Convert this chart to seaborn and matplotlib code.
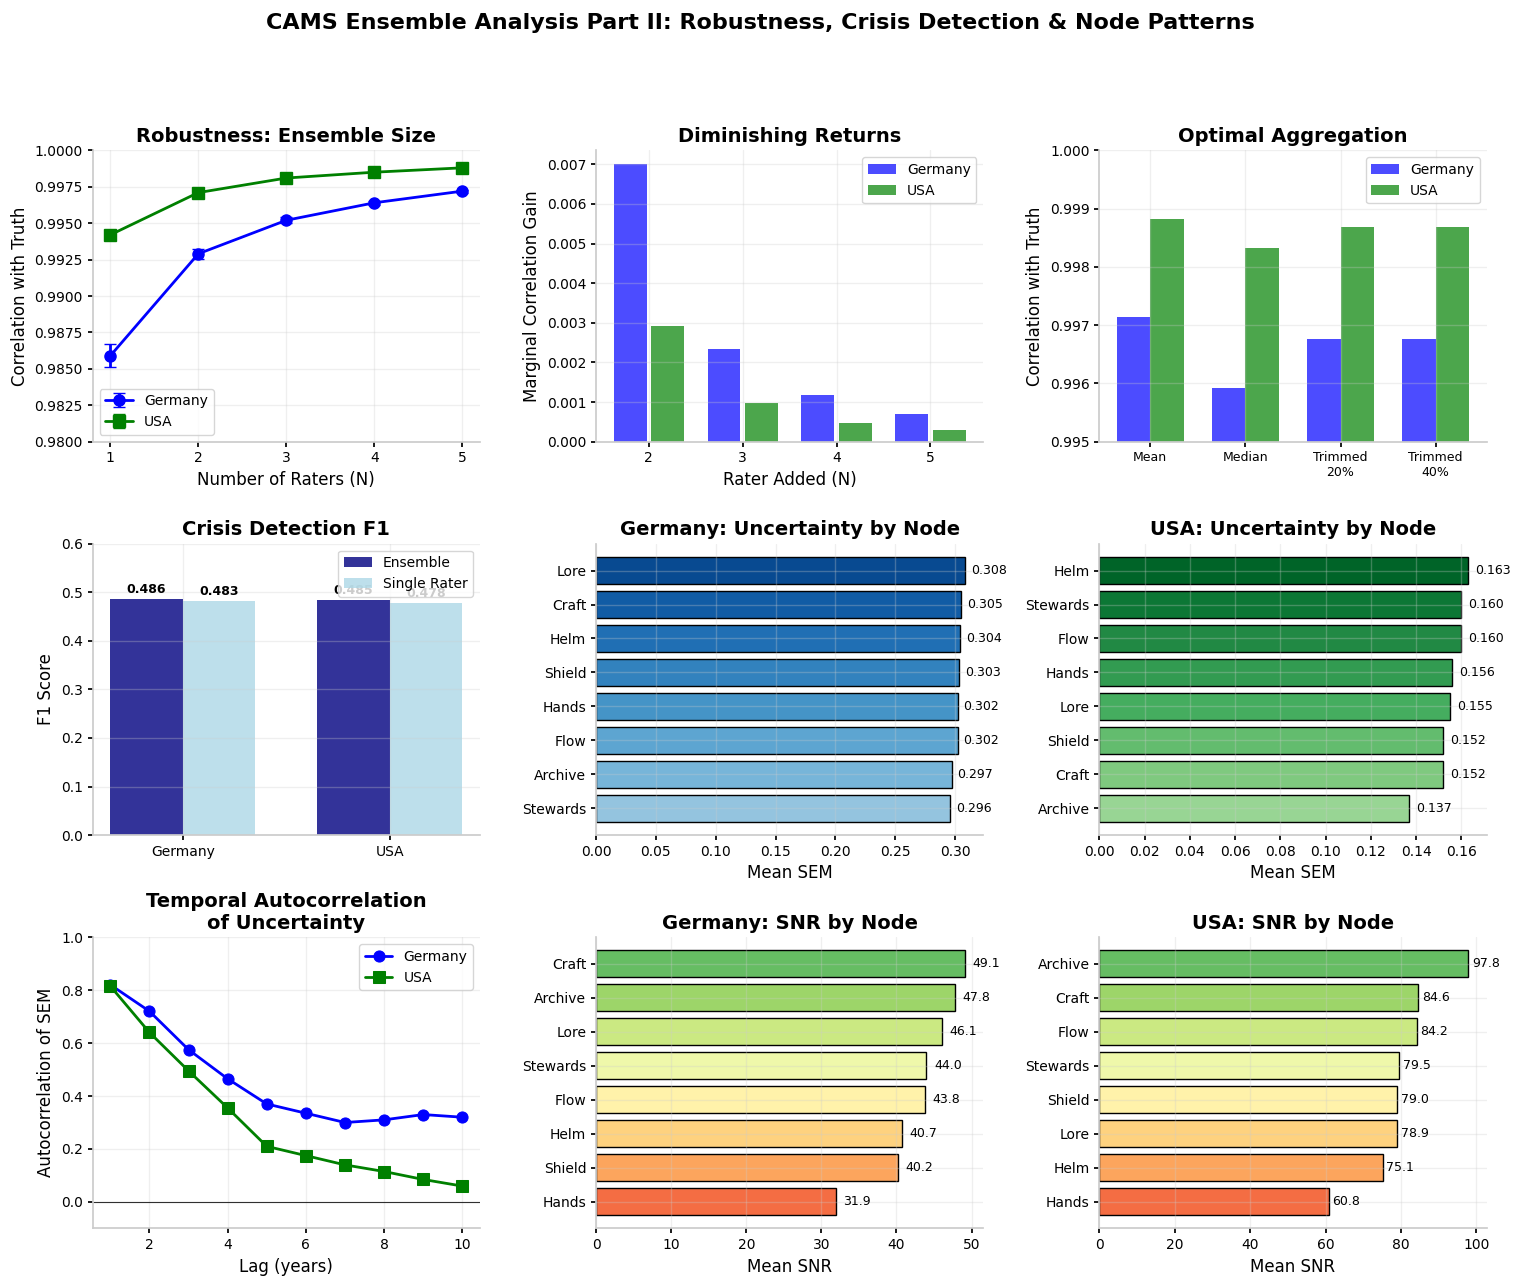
import matplotlib
matplotlib.use('Agg')
import matplotlib.pyplot as plt
import numpy as np
import pandas as pd
import seaborn as sns

# ---- data ----
countries = ['Germany', 'USA']

raters = [1, 2, 3, 4, 5]
robust_ger = [0.9859, 0.9929, 0.9952, 0.9964, 0.9972]
robust_ger_err = [0.0008, 0.00035, 0.0002, 0.00015, 0.0001]
robust_usa = [0.9942, 0.9971, 0.9981, 0.9985, 0.9988]
robust_usa_err = [0.0001, 0.00008, 0.00005, 0.00004, 0.00003]

added = [2, 3, 4, 5]
gain_ger = [0.0070, 0.00235, 0.00118, 0.00070]
gain_usa = [0.00293, 0.00098, 0.00048, 0.00030]

methods = ['Mean', 'Median', 'Trimmed\n20%', 'Trimmed\n40%']
agg_ger = [0.99714, 0.99592, 0.99676, 0.99676]
agg_usa = [0.99883, 0.99832, 0.99868, 0.99868]

f1_ensemble = [0.486, 0.485]
f1_single = [0.483, 0.478]

sem_ger_nodes = ['Lore', 'Craft', 'Helm', 'Shield', 'Hands', 'Flow', 'Archive', 'Stewards']
sem_ger = [0.308, 0.305, 0.304, 0.303, 0.302, 0.302, 0.297, 0.296]
sem_usa_nodes = ['Helm', 'Stewards', 'Flow', 'Hands', 'Lore', 'Shield', 'Craft', 'Archive']
sem_usa = [0.163, 0.160, 0.160, 0.156, 0.155, 0.152, 0.152, 0.137]

lags = [1, 2, 3, 4, 5, 6, 7, 8, 9, 10]
acf_ger = [0.82, 0.72, 0.575, 0.465, 0.37, 0.335, 0.30, 0.31, 0.33, 0.32]
acf_usa = [0.815, 0.64, 0.495, 0.355, 0.21, 0.175, 0.14, 0.115, 0.085, 0.06]

snr_ger_nodes = ['Craft', 'Archive', 'Lore', 'Stewards', 'Flow', 'Helm', 'Shield', 'Hands']
snr_ger = [49.1, 47.8, 46.1, 44.0, 43.8, 40.7, 40.2, 31.9]
snr_usa_nodes = ['Archive', 'Craft', 'Flow', 'Stewards', 'Shield', 'Lore', 'Helm', 'Hands']
snr_usa = [97.8, 84.6, 84.2, 79.5, 79.0, 78.9, 75.1, 60.8]

# ---- style ----
sns.set_theme(style='ticks', font='DejaVu Sans')
plt.rcParams.update({
    'font.family': ['DejaVu Sans'],
    'text.color': 'black',
    'axes.labelcolor': 'black',
    'xtick.color': 'black',
    'ytick.color': 'black',
    'axes.edgecolor': '#cccccc',
    'axes.axisbelow': 'line',
    'axes.titlesize': 14,
    'axes.titleweight': 'bold',
    'axes.labelsize': 12,
    'xtick.labelsize': 10,
    'ytick.labelsize': 10,
    'legend.fontsize': 10,
    'xtick.major.size': 3.5,
    'ytick.major.size': 3.5,
})

fig, axes = plt.subplots(3, 3, figsize=(15.2, 12.85), dpi=100)
plt.subplots_adjust(left=0.061, right=0.978, top=0.883, bottom=0.044, wspace=0.30, hspace=0.35)
fig.suptitle('CAMS Ensemble Analysis Part II: Robustness, Crisis Detection & Node Patterns',
             fontsize=16, fontweight='bold', y=0.99, va='top')


def finish(ax):
    ax.grid(True, alpha=0.3)
    sns.despine(ax=ax)


def refit(ax):
    # undo seaborn's fixed categorical limits, use matplotlib margins
    ax.relim()
    ax.autoscale(enable=True)
    ax.autoscale_view()


def fix_legend(ax, loc):
    leg = ax.get_legend()
    handles = leg.legend_handles
    labels = [t.get_text() for t in leg.texts]
    ax.legend(handles, labels, loc=loc)


# 1. robustness
ax = axes[0, 0]
ax.errorbar(raters, robust_ger, yerr=robust_ger_err, fmt='o-', color='blue', lw=2,
            markersize=8, capsize=4, label='Germany')
ax.errorbar(raters, robust_usa, yerr=robust_usa_err, fmt='s-', color='green', lw=2,
            markersize=8, capsize=4, label='USA')
ax.set_xticks(raters)
ax.set_ylim(0.98, 1.0)
ax.set_xlabel('Number of Raters (N)')
ax.set_ylabel('Correlation with Truth')
ax.set_title('Robustness: Ensemble Size')
ax.legend(loc='lower left')
finish(ax)

# 2. diminishing returns
ax = axes[0, 1]
df_gain = pd.DataFrame({'n': added * 2, 'gain': gain_ger + gain_usa,
                        'country': ['Germany'] * 4 + ['USA'] * 4})
sns.barplot(data=df_gain, x='n', y='gain', hue='country', palette=['blue', 'green'],
            saturation=1, alpha=0.7, width=0.8, gap=0.125, linewidth=0,
            errorbar=None, ax=ax)
refit(ax)
fix_legend(ax, 'upper right')
ax.set_xlabel('Rater Added (N)')
ax.set_ylabel('Marginal Correlation Gain')
ax.set_title('Diminishing Returns')
finish(ax)

# 3. optimal aggregation
ax = axes[0, 2]
df_agg = pd.DataFrame({'method': methods * 2, 'corr': agg_ger + agg_usa,
                       'country': ['Germany'] * 4 + ['USA'] * 4})
sns.barplot(data=df_agg, x='method', y='corr', hue='country', palette=['blue', 'green'],
            saturation=1, alpha=0.7, width=0.7, linewidth=0, errorbar=None, ax=ax)
refit(ax)
ax.set_ylim(0.995, 1.0)
fix_legend(ax, 'upper right')
ax.set_xlabel('')
ax.set_ylabel('Correlation with Truth')
ax.tick_params(axis='x', labelsize=9)
ax.set_title('Optimal Aggregation')
finish(ax)

# 4. crisis detection F1
ax = axes[1, 0]
df_f1 = pd.DataFrame({'country': countries * 2, 'f1': f1_ensemble + f1_single,
                      'kind': ['Ensemble'] * 2 + ['Single Rater'] * 2})
sns.barplot(data=df_f1, x='country', y='f1', hue='kind', palette=['navy', 'lightblue'],
            saturation=1, alpha=0.8, width=0.7, linewidth=0, errorbar=None, ax=ax)
refit(ax)
for cont in ax.containers:
    ax.bar_label(cont, fmt='%.3f', fontsize=9, fontweight='bold', padding=2)
ax.set_ylim(0, 0.6)
fix_legend(ax, 'upper right')
ax.set_xlabel('')
ax.set_ylabel('F1 Score')
ax.set_title('Crisis Detection F1')
finish(ax)


def node_bars(ax, nodes, vals, colors, fmt, off, title, xlabel):
    sns.barplot(x=vals, y=nodes, hue=nodes, palette=colors, legend=False, saturation=1,
                orient='h', edgecolor='black', linewidth=1, errorbar=None, ax=ax)
    refit(ax)
    for i, v in enumerate(vals):
        ax.text(v + off, i, fmt.format(v), va='center', fontsize=9)
    ax.set_xlabel(xlabel)
    ax.set_ylabel('')
    ax.set_title(title)
    finish(ax)


# 5/6. uncertainty by node
node_bars(axes[1, 1], sem_ger_nodes, sem_ger, list(plt.cm.Blues(np.linspace(0.9, 0.4, 8))),
          '{:.3f}', 0.005, 'Germany: Uncertainty by Node', 'Mean SEM')
node_bars(axes[1, 2], sem_usa_nodes, sem_usa, list(plt.cm.Greens(np.linspace(0.9, 0.4, 8))),
          '{:.3f}', 0.003, 'USA: Uncertainty by Node', 'Mean SEM')

# 7. autocorrelation
ax = axes[2, 0]
sns.lineplot(x=lags, y=acf_ger, color='blue', marker='o', markersize=8, lw=2,
             markeredgecolor='blue', label='Germany', ax=ax)
sns.lineplot(x=lags, y=acf_usa, color='green', marker='s', markersize=8, lw=2,
             markeredgecolor='green', label='USA', ax=ax)
ax.axhline(0, color='black', lw=0.8, alpha=0.8)
ax.set_ylim(-0.1, 1.0)
ax.set_xlabel('Lag (years)')
ax.set_ylabel('Autocorrelation of SEM')
ax.set_title('Temporal Autocorrelation\nof Uncertainty')
ax.legend(loc='upper right')
finish(ax)

# 8/9. SNR by node
snr_colors = list(plt.cm.RdYlGn(np.linspace(0.8, 0.2, 8)))
node_bars(axes[2, 1], snr_ger_nodes, snr_ger, snr_colors, '{:.1f}', 1.0,
          'Germany: SNR by Node', 'Mean SNR')
node_bars(axes[2, 2], snr_usa_nodes, snr_usa, snr_colors, '{:.1f}', 1.0,
          'USA: SNR by Node', 'Mean SNR')

plt.savefig('out.png', dpi=100)
